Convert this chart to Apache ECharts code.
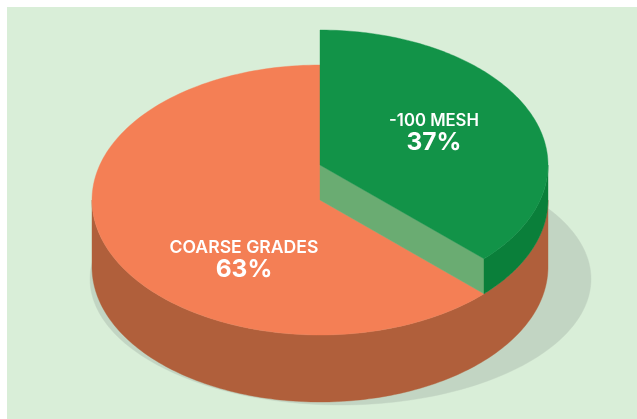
<!DOCTYPE html>
<html>
<head>
<meta charset="utf-8">
<style>html,body{margin:0;padding:0;background:#fff}#c{width:637px;height:419px}</style>
<script src="https://cdn.jsdelivr.net/npm/echarts@6/dist/echarts.min.js"></script>
</head>
<body>
<div id="c"></div>
<script>
var categories = ['COARSE GRADES', '-100 MESH'];
var shares = [63, 37];
var percentLabels = ['63%', '37%'];

var GEO = { cx: 320, cy: 200, rx: 228, ry: 135, depth: 67, lift: 35, cutSkew: 0.014 };
var SHADOW = { cx: 340.5, cy: 279, rx: 250.5, ry: 126 };
var LABELS = [
  { x: 244, y: 247.5, y2: 269.5, size: 17.6, size2: 24.5 },
  { x: 434, y: 120.5, y2: 143, size: 16.7, size2: 24.5 }
];
var COLORS = [
  { top: '#f47f55', side: '#b05f3b' },
  { top: '#129348', side: '#0a7f3a', cut: '#6aac72' }
];
var FONT = 'Inter';

function pt(a, cy) { // a: radians clockwise from 12 o'clock
  return [GEO.cx + GEO.rx * Math.sin(a), cy - GEO.ry * Math.cos(a)];
}
function arc(a0, a1, cy) {
  var pts = [], n = 160;
  for (var i = 0; i <= n; i++) pts.push(pt(a0 + (a1 - a0) * i / n, cy));
  return pts;
}
function wall(a0, a1, cy, depth) {
  return arc(a0, a1, cy).concat(arc(a1, a0, cy + depth));
}
function poly(points, fill, z) {
  return { type: 'polygon', shape: { points: points }, style: { fill: fill, stroke: fill, lineWidth: 0.4 }, z2: z };
}
function txt(x, y, s, size, weight, z) {
  return { type: 'text', z2: z, style: { x: x, y: y, text: s, fill: '#fff', font: weight + ' ' + size + 'px ' + FONT, align: 'center', verticalAlign: 'middle' } };
}

var total = shares.reduce(function (a, b) { return a + b; }, 0);
var greenSweep = shares[1] / total * Math.PI * 2 + GEO.cutSkew;

function renderItem(params, api) {
  var i = params.dataIndex, kids = [], c = COLORS[i], L = LABELS[i];
  if (i === 0) {
    var sh = [];
    for (var k = 0; k <= 200; k++) {
      var t = k / 200 * Math.PI * 2;
      sh.push([SHADOW.cx + SHADOW.rx * Math.cos(t), SHADOW.cy + SHADOW.ry * Math.sin(t)]);
    }
    kids.push(poly(sh, '#c2d5c3', 1));
    kids.push(poly(wall(Math.PI / 2, Math.PI * 1.5, GEO.cy, GEO.depth), c.side, 2));
    kids.push(poly([[GEO.cx, GEO.cy]].concat(arc(greenSweep, Math.PI * 2, GEO.cy)), c.top, 3));
  } else {
    var cy = GEO.cy - GEO.lift;
    kids.push(poly([[GEO.cx, cy], pt(greenSweep, cy), pt(greenSweep, GEO.cy), [GEO.cx, GEO.cy]], c.cut, 4));
    kids.push(poly(wall(Math.PI / 2, greenSweep, cy, GEO.lift), c.side, 4));
    kids.push(poly([[GEO.cx, cy]].concat(arc(0, greenSweep, cy)), c.top, 5));
  }
  kids.push(txt(L.x, L.y, categories[i], L.size, 600, 10));
  kids.push(txt(L.x, L.y2, percentLabels[i], L.size2, 700, 10));
  return { type: 'group', children: kids };
}

var chart = echarts.init(document.getElementById('c'), null, { renderer: 'canvas' });
chart.setOption({
  animation: false,
  backgroundColor: '#ffffff',
  graphic: [{ type: 'rect', shape: { x: 7, y: 7, width: 630, height: 412 }, style: { fill: '#d9eed8' }, z: -1 }],
  series: [{
    type: 'custom',
    coordinateSystem: 'none',
    renderItem: renderItem,
    data: shares.map(function (v, i) { return { name: categories[i], value: v }; }),
    silent: true
  }]
});
</script>
</body>
</html>
